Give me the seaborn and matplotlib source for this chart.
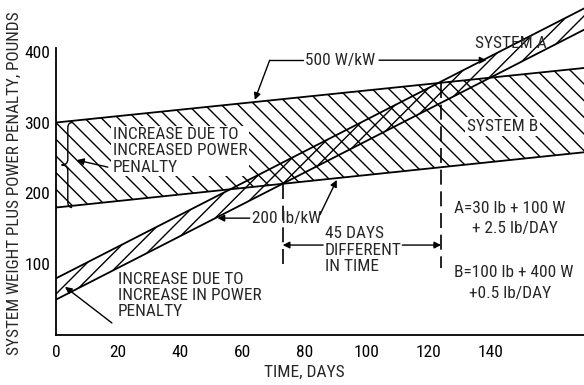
import matplotlib
matplotlib.use("Agg")
import matplotlib.pyplot as plt
from matplotlib import font_manager
from matplotlib.path import Path
from matplotlib.patches import PathPatch
import seaborn as sns
import pandas as pd
import numpy as np

# ---- data ----
days = [0, 170]
sys_a_200 = [50, 431]     # System A, 200 lb/kW penalty
sys_a_500 = [80, 461]     # System A, 500 lb/kW penalty
sys_b_200 = [180, 258]    # System B, 200 lb/kW penalty
sys_b_500 = [300, 377]    # System B, 500 lb/kW penalty
x_ticks = [0, 20, 40, 60, 80, 100, 120, 140]
y_ticks = [100, 200, 300, 400]
crossing_days = [73, 124]  # A/B crossovers at 200 and 500 lb/kW

sns.set_theme(style="white")

# pick a narrow/condensed face if one is installed
ttf = font_manager.fontManager.ttflist
def has(name, stretch=None):
    for f in ttf:
        if f.name == name:
            if stretch is None:
                return True
            st = str(f.stretch)
            if st in ("condensed", "semi-condensed", "extra-condensed") or st in ("500", "400", "300", "200"):
                return True
    return False

choice = ("DejaVu Sans", "normal", 1.0)
for name, stretch, scale in [("Liberation Sans Narrow", None, 1.0),
                             ("Roboto Condensed", None, 1.0),
                             ("Open Sans Condensed", None, 1.0),
                             ("DejaVu Sans Condensed", None, 1.0),
                             ("DejaVu Sans", "condensed", 1.0),
                             ("Noto Sans", "condensed", 1.0),
                             ("Open Sans", "condensed", 1.0),
                             ("Roboto", None, 0.95)]:
    if has(name, stretch):
        choice = (name, stretch or "normal", scale)
        break
plt.rcParams["font.family"] = [choice[0], "DejaVu Sans"]
plt.rcParams["font.stretch"] = choice[1]
plt.rcParams["hatch.linewidth"] = 1.0
plt.rcParams["hatch.color"] = "black"
sc = choice[2]

fig = plt.figure(figsize=(5.84, 3.85), dpi=100)
ax = fig.add_axes([56 / 584, 50 / 385, 1 - 56 / 584, 1 - 50 / 385])

df = pd.DataFrame({
    "day": days * 4,
    "weight": sys_a_200 + sys_a_500 + sys_b_200 + sys_b_500,
    "line": ["A200"] * 2 + ["A500"] * 2 + ["B200"] * 2 + ["B500"] * 2,
})
sns.lineplot(data=df, x="day", y="weight", units="line", estimator=None,
             color="black", lw=1.3, ax=ax, legend=False)

ax.fill_between(days, sys_b_200, sys_b_500, facecolor="none",
                edgecolor="black", hatch="\\\\", linewidth=0)
ax.fill_between(days, sys_a_200, sys_a_500, facecolor="none",
                edgecolor="black", hatch="//", linewidth=0)

ax.set_xlim(0, 170)
ax.set_ylim(0, 473)
ax.set_xticks(x_ticks)
ax.set_xticklabels([str(v) for v in x_ticks])
ax.set_yticks(y_ticks)
ax.set_yticklabels([str(v) for v in y_ticks])
ax.set_xlabel("")
ax.set_ylabel("")
for s in ["top", "right"]:
    ax.spines[s].set_visible(False)
for s in ["left", "bottom"]:
    ax.spines[s].set_color("black")
    ax.spines[s].set_linewidth(1.3)
ax.spines["left"].set_bounds(0, 405)
fs = 12.4 * sc
ax.tick_params(axis="x", direction="inout", length=7, width=1.2, pad=4,
               labelsize=12.5 * sc, colors="black")
ax.tick_params(axis="y", direction="in", length=5, width=1.2, pad=4,
               labelsize=12.5 * sc, colors="black")

# crossing markers (dashed verticals)
tops = [np.interp(crossing_days[0], days, sys_b_200),
        np.interp(crossing_days[1], days, sys_b_500)]
for d, t in zip(crossing_days, tops):
    ax.plot([d, d], [t, 95], color="black", lw=1.2, ls=(0, (9, 4)))

ap = dict(arrowstyle="-|>", color="black", lw=1.0, mutation_scale=10,
          shrinkA=0, shrinkB=0)

# 45 days annotation
ax.annotate("", xy=(crossing_days[0], 127), xytext=(86, 127), arrowprops=ap)
ax.annotate("", xy=(crossing_days[1], 127), xytext=(111.5, 127), arrowprops=ap)
ax.text(86.5, 120, "45 DAYS\nDIFFERENT\nIN TIME", ha="left", va="center",
        fontsize=fs, linespacing=1.1)

# 500 W/kW
ax.text(91.6, 388, "500 W/kW", ha="center", va="center", fontsize=fs)
ax.plot([79.5, 68.8], [388, 388], color="black", lw=1.0)
ax.annotate("", xy=(64, 332), xytext=(68.8, 388), arrowprops=ap)
ax.annotate("", xy=(138.6, 388), xytext=(104, 388), arrowprops=ap)

# 200 lb/kW
ax.text(74.2, 165, "200 lb/kW", ha="center", va="center", fontsize=fs)
ax.annotate("", xy=(52, 165), xytext=(62.4, 165), arrowprops=ap)
ax.annotate("", xy=(90.4, 219), xytext=(85, 170), arrowprops=ap)

# system labels
ax.text(146.3, 412, "SYSTEM A", ha="center", va="center", fontsize=fs)
ax.text(143.7, 294, "SYSTEM B", ha="center", va="center", fontsize=fs,
        bbox=dict(fc="white", ec="none", pad=1.5))

# increase labels
ax.text(18.3, 260, "INCREASE DUE TO\nINCREASED POWER\nPENALTY", ha="left",
        va="center", fontsize=fs, linespacing=1.1,
        bbox=dict(fc="white", ec="none", pad=1.0))
ax.annotate("", xy=(6.75, 247), xytext=(16.7, 237), arrowprops=ap)
ax.text(20, 56, "INCREASE DUE TO\nINCREASE IN POWER\nPENALTY", ha="left",
        va="center", fontsize=fs, linespacing=1.1,
        bbox=dict(fc="white", ec="none", pad=1.0))
ax.annotate("", xy=(2.9, 68), xytext=(18, 17), arrowprops=ap)

# brace
xl, xm, xr = 1.8, 3.8, 5.2
y0, y1 = 180, 300
ym = (y0 + y1) / 2
dd = 8
verts = [(xr, y1), (xm, y1), (xm, y1 - dd), (xm, ym + dd), (xm, ym), (xl, ym),
         (xm, ym), (xm, ym - dd), (xm, y0 + dd), (xm, y0), (xr, y0)]
codes = [Path.MOVETO, Path.CURVE3, Path.CURVE3, Path.LINETO, Path.CURVE3,
         Path.CURVE3, Path.CURVE3, Path.CURVE3, Path.LINETO, Path.CURVE3,
         Path.CURVE3]
ax.add_patch(PathPatch(Path(verts, codes), fc="none", ec="black", lw=1.0))

# formulas
ax.text(128.3, 179, "A=30 lb + 100 W", ha="left", va="center", fontsize=fs)
ax.text(133.8, 150, "+ 2.5 lb/DAY", ha="left", va="center", fontsize=fs)
ax.text(128.3, 88, "B=100 lb + 400 W", ha="left", va="center", fontsize=fs)
ax.text(133.1, 58, "+0.5 lb/DAY", ha="left", va="center", fontsize=fs)

fig.text(304 / 584, 1 - 372 / 385, "TIME, DAYS", ha="center", va="center",
         fontsize=12.5 * sc)
fig.text(14 / 584, 1 - 183 / 385, "SYSTEM WEIGHT PLUS POWER PENALTY, POUNDS",
         ha="center", va="center", rotation=90, fontsize=12.3 * sc)

fig.savefig("out.png", dpi=100)
